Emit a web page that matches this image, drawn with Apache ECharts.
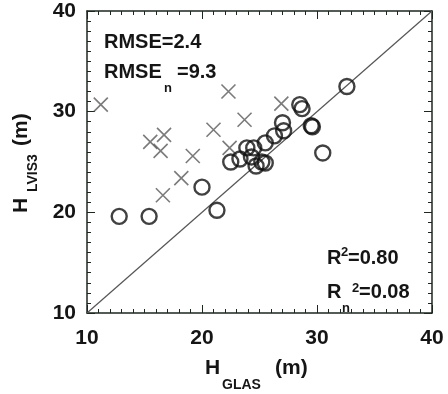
<!DOCTYPE html>
<html><head><meta charset="utf-8">
<script src="https://cdn.jsdelivr.net/npm/echarts@6/dist/echarts.min.js"></script>
<style>html,body{margin:0;padding:0;background:#fff}#c{width:448px;height:394px}</style>
</head><body><div id="c"></div>
<script>
// H_GLAS (x) vs H_LVIS3 (y), metres
const crossX = [11.2, 22.3, 26.9, 23.7, 21.0, 16.7, 15.5, 16.4, 19.2, 22.4, 18.2, 16.6];
const crossY = [30.7, 32.0, 30.8, 29.2, 28.2, 27.7, 27.0, 26.1, 25.6, 26.4, 23.4, 21.7];
const circX = [12.8, 15.4, 20.0, 21.3, 22.5, 23.3, 23.9, 24.5, 24.3, 24.7, 25.2, 25.5, 25.5, 26.3, 27.1, 27.0, 28.5, 28.7, 29.5, 29.6, 30.5, 32.6];
const circY = [19.6, 19.6, 22.5, 20.2, 25.0, 25.3, 26.4, 26.4, 25.5, 24.6, 25.0, 24.9, 26.9, 27.6, 28.1, 28.9, 30.7, 30.3, 28.6, 28.5, 25.9, 32.5];
const oneToOne = [[10, 10], [40, 40]];
const axisMin = 10, axisMax = 40, axisStep = 10;

const FONT = 'Liberation Sans, Arial, sans-serif';
const TXT = '#151515';
const AX = '#1e2620';

function mkAxis(pos, showLabel) {
  return {
    type: 'value', position: pos, min: axisMin, max: axisMax, interval: axisStep,
    axisLine: { show: true, onZero: false, lineStyle: { color: AX, width: 1.5 } },
    axisTick: { show: true, inside: true, length: 8, lineStyle: { color: AX } },
    minorTick: { show: true, splitNumber: 10, length: 4, lineStyle: { color: AX } },
    splitLine: { show: false },
    axisLabel: { show: showLabel, fontFamily: FONT, fontWeight: 'bold', fontSize: 21, color: TXT,
                 margin: (pos === 'bottom' || pos === 'top') ? 15 : 11 }
  };
}

function t(text, x, y, size, extra) {
  return Object.assign({
    type: 'text', x: x, y: y, silent: true,
    style: { text: text, fontFamily: FONT, fontWeight: 'bold', fontSize: size, fill: TXT,
             align: 'left', verticalAlign: 'middle' }
  }, extra || {});
}
const R90 = { rotation: Math.PI / 2 };

const chart = echarts.init(document.getElementById('c'));
chart.setOption({
  animation: false,
  backgroundColor: '#fff',
  grid: { left: 87, right: 16, top: 11, bottom: 81 },
  xAxis: [mkAxis('bottom', true), mkAxis('top', false)],
  yAxis: [mkAxis('left', true), mkAxis('right', false)],
  series: [
    { type: 'line', data: oneToOne, symbol: 'none', silent: true,
      lineStyle: { color: '#555', width: 1.2 }, z: 1 },
    { type: 'scatter', data: crossX.map((v, i) => [v, crossY[i]]),
      symbol: 'path://M0,0L10,10M10,0L0,10', symbolSize: 14,
      itemStyle: { color: 'none', borderColor: '#5a5a5a', borderWidth: 1.6 }, z: 2 },
    { type: 'scatter', data: circX.map((v, i) => [v, circY[i]]),
      symbol: 'circle', symbolSize: 15,
      itemStyle: { color: 'rgba(0,0,0,0)', borderColor: '#111', borderWidth: 2.4 }, z: 3 }
  ],
  graphic: [
    t('RMSE=2.4', 104, 42, 20),
    t('RMSE', 104, 72, 20),
    t('n', 164, 88, 13),
    t('=9.3', 177, 72, 20),
    t('R', 327, 258, 20),
    t('2', 341, 252, 13),
    t('=0.80', 348, 258, 20),
    t('R', 327, 292, 20),
    t('n', 342, 308, 13),
    t('2', 352, 288, 13),
    t('=0.08', 359, 292, 20),
    t('H', 205, 368, 21),
    t('GLAS', 222, 385, 14),
    t('(m)', 275, 368, 21),
    t('H', 21, 213, 21, R90),
    t('LVIS3', 33, 192, 14, R90),
    t('(m)', 21, 146, 21, R90)
  ]
});
</script></body></html>
